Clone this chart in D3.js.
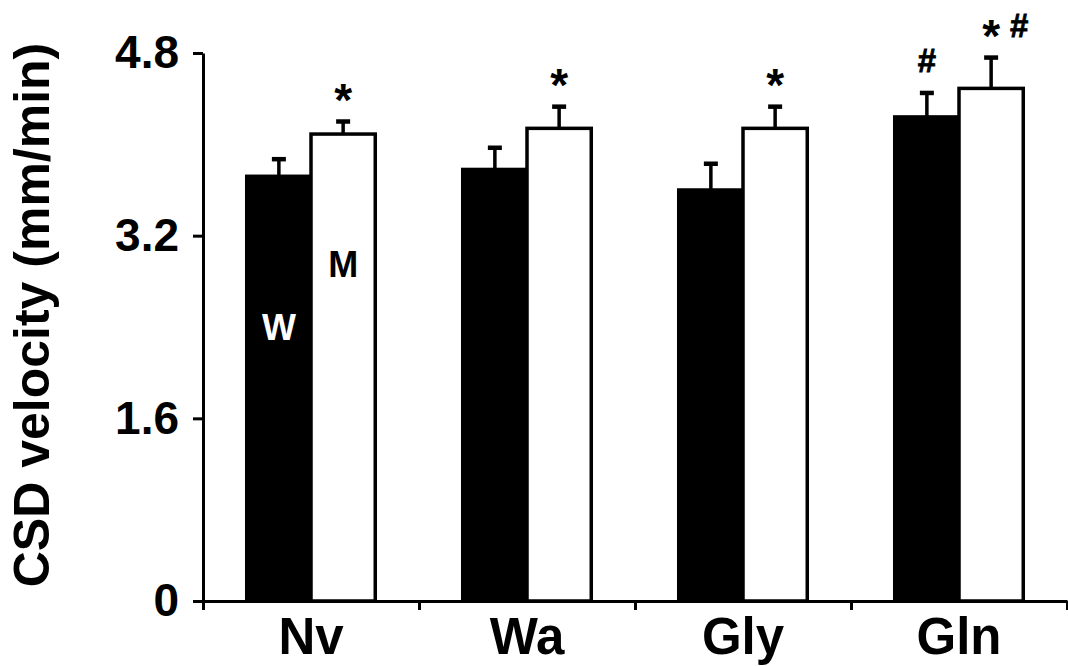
<!DOCTYPE html>
<html>
<head>
<meta charset="utf-8">
<script src="https://cdn.jsdelivr.net/npm/d3@7"></script>
<style>
  html, body { margin: 0; padding: 0; background: #fff; }
  svg { display: block; font-family: "Liberation Sans", Arial, sans-serif; font-weight: bold; }
</style>
</head>
<body>
<svg></svg>
<script>
// data
const groups = ["Nv", "Wa", "Gly", "Gln"];
const series = ["W", "M"];
const wMean = [3.72, 3.78, 3.60, 4.24];
const wSem = [0.15, 0.19, 0.23, 0.21];
const mMean = [4.09, 4.14, 4.14, 4.49];
const mSem = [0.11, 0.19, 0.19, 0.27];
const wMarks = ["", "", "", "#"];
const mMarks = ["*", "*", "*", "*#"];
const yTicks = [0, 1.6, 3.2, 4.8];

const svg = d3.select("svg").attr("width", 1068).attr("height", 666);
const width = +svg.attr("width");
const height = +svg.attr("height");

const left = 203, right = 1067, zeroY = 601, topY = 53;

const y = d3.scaleLinear().domain([0, 4.8]).range([zeroY, topY]);

const x0 = d3
  .scaleBand()
  .domain(groups)
  .range([left, right])
  .paddingInner(0.405)
  .paddingOuter(0.2025);

const x1 = d3.scaleBand().domain(series).range([0, x0.bandwidth()]);

const bars = [];
groups.forEach((g, i) => {
  bars.push({ g, s: "W", mean: wMean[i], sem: wSem[i], mark: wMarks[i] });
  bars.push({ g, s: "M", mean: mMean[i], sem: mSem[i], mark: mMarks[i] });
});

// bars
svg
  .selectAll("rect.bar")
  .data(bars)
  .enter()
  .append("rect")
  .attr("class", "bar")
  .attr("x", (d) => x0(d.g) + x1(d.s))
  .attr("y", (d) => y(d.mean))
  .attr("width", x1.bandwidth())
  .attr("height", (d) => y(0) - y(d.mean))
  .attr("fill", (d) => (d.s === "W" ? "#000" : "#fff"))
  .attr("stroke", "#000")
  .attr("stroke-width", 3.5);

// error bars (upper only)
const cx = (d) => x0(d.g) + x1(d.s) + x1.bandwidth() / 2;
svg
  .selectAll("line.err")
  .data(bars)
  .enter()
  .append("line")
  .attr("x1", cx)
  .attr("x2", cx)
  .attr("y1", (d) => y(d.mean))
  .attr("y2", (d) => y(d.mean + d.sem))
  .attr("stroke", "#000")
  .attr("stroke-width", 3.5);

svg
  .selectAll("line.cap")
  .data(bars)
  .enter()
  .append("line")
  .attr("x1", (d) => cx(d) - 7)
  .attr("x2", (d) => cx(d) + 7)
  .attr("y1", (d) => y(d.mean + d.sem))
  .attr("y2", (d) => y(d.mean + d.sem))
  .attr("stroke", "#000")
  .attr("stroke-width", 4.5);

// significance marks
bars.forEach((d) => {
  d.mark.split("").forEach((c, k) => {
    svg
      .append("text")
      .attr("x", cx(d) + k * 28)
      .attr("y", y(d.mean + d.sem) - (c === "*" ? 6 : 21))
      .attr("text-anchor", "middle")
      .attr("font-size", c === "*" ? "46px" : "33px")
      .attr("stroke", c === "#" ? "#000" : "none")
      .attr("stroke-width", 0.8)
      .attr("fill", "#000")
      .text(c);
  });
});

// W / M labels inside first group
svg
  .append("text")
  .attr("x", x0(groups[0]) + x1("W") + x1.bandwidth() / 2)
  .attr("y", y(2.29))
  .attr("text-anchor", "middle")
  .attr("font-size", "36px")
  .attr("fill", "#fff")
  .text("W");

svg
  .append("text")
  .attr("x", x0(groups[0]) + x1("M") + x1.bandwidth() / 2)
  .attr("y", y(2.84))
  .attr("text-anchor", "middle")
  .attr("font-size", "36px")
  .attr("fill", "#000")
  .text("M");

// y axis
const yAxis = svg
  .append("g")
  .attr("transform", `translate(${left},0)`)
  .call(
    d3
      .axisLeft(y)
      .tickValues(yTicks)
      .tickSize(10)
      .tickSizeOuter(0)
      .tickPadding(14)
      .tickFormat((d) => (d === 0 ? "0" : d3.format(".1f")(d)))
  );
yAxis.selectAll("path, line").attr("stroke", "#000").attr("stroke-width", 3);
yAxis
  .selectAll("text")
  .attr("font-size", "46px")
  .attr("font-family", "Liberation Sans, Arial, sans-serif")
  .attr("font-weight", "bold")
  .attr("fill", "#000");

// x axis: line with ticks at group boundaries
const xb = d3.scaleLinear().domain([0, groups.length]).range([left, right]);
const xAxis = svg
  .append("g")
  .attr("transform", `translate(0,${zeroY})`)
  .call(
    d3
      .axisBottom(xb)
      .ticks(groups.length)
      .tickSize(9)
      .tickSizeOuter(0)
      .tickFormat("")
  );
xAxis.selectAll("path, line").attr("stroke", "#000").attr("stroke-width", 3);

// x category labels
const xLab = svg
  .append("g")
  .attr("transform", `translate(0,${zeroY})`)
  .call(d3.axisBottom(x0).tickSize(0).tickPadding(0));
xLab.select(".domain").remove();
xLab
  .selectAll("text")
  .attr("dy", null)
  .attr("y", 53)
  .attr("font-size", "51px")
  .attr("font-family", "Liberation Sans, Arial, sans-serif")
  .attr("font-weight", "bold")
  .attr("fill", "#000");

// y axis title
svg
  .append("text")
  .attr("transform", `translate(49,315) rotate(-90)`)
  .attr("text-anchor", "middle")
  .attr("font-size", "50px")
  .attr("fill", "#000")
  .text("CSD velocity (mm/min)");
</script>
</body>
</html>
